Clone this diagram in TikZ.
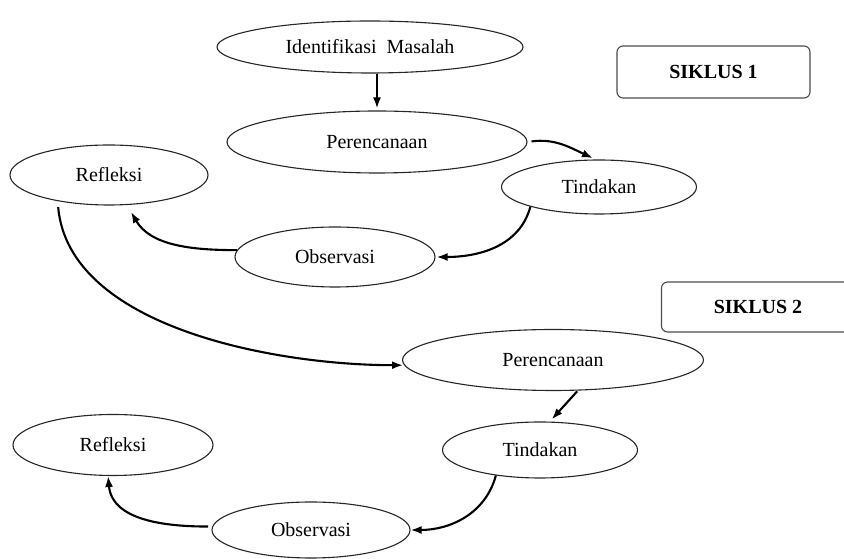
\documentclass[tikz,border=0pt]{standalone}
\usepackage{fontspec}
\setmainfont{Liberation Serif}
\usetikzlibrary{arrows.meta,shapes.geometric}

\tikzset{
  stage/.style={ellipse,draw=black!85,line width=1.1pt,inner sep=0pt,
    minimum width=198pt,minimum height=58pt,font=\fontsize{20}{24}\selectfont},
  siklus/.style={rectangle,rounded corners=6pt,draw=black!70,line width=1.1pt,
    minimum width=193pt,minimum height=51pt,font=\fontsize{20}{24}\selectfont\bfseries},
  flow/.style={->,line width=2.1pt}
}

\begin{document}
\begin{tikzpicture}[x=1pt,y=1pt,>={Latex[length=11pt,width=8pt]}]
  \useasboundingbox (0,0) rectangle (844,559);
  % siklus 1
  \node[stage,minimum width=306pt,minimum height=52pt] (ident) at (370,512) {Identifikasi~~Masalah};
  \node[stage,minimum width=300pt,minimum height=62pt] (per1) at (377,417) {Perencanaan};
  \node[stage,minimum height=60pt] (ref1) at (109,384) {Refleksi};
  \node[stage,minimum width=195pt,minimum height=54pt] (tin1) at (599,372) {Tindakan};
  \node[stage,minimum width=200pt,minimum height=60pt] (obs1) at (335,302) {Observasi};
  \node[siklus,minimum height=52pt] (sik1) at (713.5,487) {SIKLUS 1};
  % siklus 2
  \node[stage,minimum width=301pt,minimum height=61pt] (per2) at (553,199) {Perencanaan};
  \node[stage,minimum width=195pt,minimum height=56pt] (tin2) at (540,109) {Tindakan};
  \node[stage,minimum width=200pt,minimum height=61pt] (ref2) at (113,114) {Refleksi};
  \node[stage,minimum height=56pt] (obs2) at (311,29) {Observasi};
  \node[siklus,minimum height=50pt] (sik2) at (758,252) {SIKLUS 2};

  \draw[flow,shorten >=2pt] (per1.north |- ident.south) -- (per1.north);
  \draw[flow,shorten <=4pt,shorten >=3pt] (per1.east) to[out=8,in=155] (tin1.97);
  \draw[flow,shorten >=1pt] (tin1.196) to[out=-105,in=0] (obs1.east);
  \draw[flow,shorten >=8pt] (obs1.176) to[out=180,in=-60] (ref1.301);
  \draw[flow,shorten <=6pt,shorten >=1pt] (ref1.207) to[out=-85,in=180,looseness=0.85] (per2.182);
  \draw[flow,shorten <=1pt,shorten >=3pt] (per2.-51) -- (tin2.71);
  \draw[flow] (tin2.210) to[out=-105,in=0] (obs2.east);
  \draw[flow,shorten <=4pt] (obs2.178) to[out=180,in=-85] (ref2.261);
\end{tikzpicture}
\end{document}
